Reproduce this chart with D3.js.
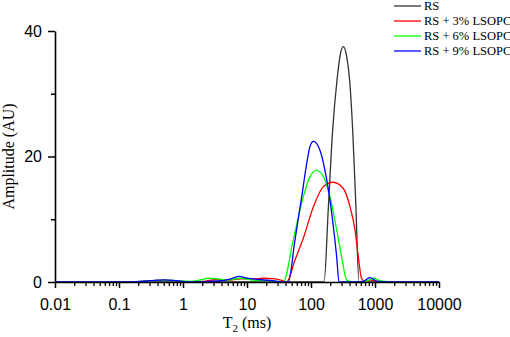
<!DOCTYPE html>
<html>
<head>
<meta charset="utf-8">
<script src="https://cdn.jsdelivr.net/npm/d3@7"></script>
<style>
  body { margin: 0; background: #fff; }
  svg { display: block; }
</style>
</head>
<body>
<div id="chart-container"></div>
<script>
// Dữ liệu: T2 (ms) và biên độ (AU)
const seriesNames = ["RS", "RS + 3% LSOPC", "RS + 6% LSOPC", "RS + 9% LSOPC"];
const seriesColors = ["#333333", "#ff0000", "#00ff00", "#0000ff"];

const rsT2 = [0.01, 100, 150, 160, 187, 218, 255, 284, 320, 360, 401, 448, 501, 562, 600, 10000];
const rsAmp = [0, 0, 0, 0, 12, 24.2, 32.2, 36.0, 37.5, 36.0, 32.2, 24.2, 12.5, 0, 0, 0];

const ls3T2 = [0.01, 0.15, 0.3, 0.5, 0.8, 1.2, 2, 3.5, 5, 8, 12, 18, 28, 36, 41.7, 56.2, 76, 109, 156, 223, 320, 407, 487, 549, 620, 700, 850, 1100, 1500, 10000];
const ls3Amp = [0, 0, 0.2, 0.3, 0.2, 0.05, 0.1, 0.4, 0.3, 0.5, 0.5, 0.6, 0.5, 0.2, 0, 3.5, 7, 12, 15.2, 15.9, 14.9, 12, 8.3, 4, 0.5, 0.1, 0.3, 0.1, 0, 0];

const ls6T2 = [0.01, 0.15, 0.3, 0.5, 0.8, 1.3, 2, 2.5, 3.5, 5, 8, 12, 20, 30, 36.9, 52.8, 75.9, 96.4, 123, 156, 198, 252, 301, 361, 450, 700, 800, 950, 1200, 2000, 10000];
const ls6Amp = [0, 0, 0.2, 0.3, 0.2, 0.1, 0.4, 0.6, 0.5, 0.3, 0.6, 0.3, 0.2, 0.1, 0, 6.7, 13.6, 16.8, 17.8, 16.8, 13.6, 8.3, 4, 0.3, 0, 0.1, 0.3, 0.6, 0.2, 0, 0];

const ls9T2 = [0.01, 0.15, 0.3, 0.5, 0.8, 1.3, 2.5, 4, 6, 7.6, 10, 15, 25, 40, 44.2, 56.2, 71.6, 85.8, 96.4, 109, 138, 176, 211, 252, 274, 450, 650, 830, 1100, 2000, 10000];
const ls9Amp = [0, 0, 0.2, 0.35, 0.2, 0, 0.1, 0.2, 0.6, 0.9, 0.6, 0.4, 0.2, 0, 0, 6.7, 13.6, 18.9, 21.6, 22.4, 21, 16.3, 10.9, 4, 0, 0, 0.1, 0.7, 0.1, 0, 0];

const xMajorTicks = [0.01, 0.1, 1, 10, 100, 1000, 10000];
const xTickLabels = ["0.01", "0.1", "1", "10", "100", "1000", "10000"];
const yMajorTicks = [0, 20, 40];
const yMinorTicks = [10, 30];

const allT2 = [rsT2, ls3T2, ls6T2, ls9T2];
const allAmp = [rsAmp, ls3Amp, ls6Amp, ls9Amp];

// Kích thước
const width = 510, height = 337;
const margin = { top: 31, right: 71, bottom: 55, left: 55 };

const svg = d3.select("#chart-container")
    .append("svg")
    .attr("width", width)
    .attr("height", height)
    .style("font-family", "'Times New Roman', 'Liberation Serif', serif");

const xScale = d3.scaleLog()
    .domain([0.01, 10000])
    .range([margin.left, width - margin.right]);

const yScale = d3.scaleLinear()
    .domain([0, 40])
    .range([height - margin.bottom - 0, margin.top]);

// Vẽ các đường
const line = d3.line()
    .x(d => xScale(d[0]))
    .y(d => yScale(d[1]))
    .curve(d3.curveMonotoneX);

allT2.forEach((t2, i) => {
    const pts = t2.map((t, j) => [t, allAmp[i][j]]);
    svg.append("path")
        .datum(pts)
        .attr("fill", "none")
        .attr("stroke", seriesColors[i])
        .attr("stroke-width", 1.3)
        .attr("d", line);
});

// Trục x: vạch chính và vạch phụ
const xMinor = [];
xMajorTicks.slice(0, -1).forEach(d => {
    for (let k = 2; k <= 9; k++) xMinor.push(d * k);
});

const xAxisY = yScale(0);
svg.append("g")
    .attr("transform", `translate(0, ${xAxisY})`)
    .call(d3.axisBottom(xScale).tickValues(xMinor).tickSize(4).tickFormat(""))
    .call(g => g.select(".domain").remove())
    .selectAll("line").attr("stroke-width", 1.3);

const gx = svg.append("g")
    .attr("transform", `translate(0, ${xAxisY})`)
    .call(d3.axisBottom(xScale)
        .tickValues(xMajorTicks)
        .tickSize(6)
        .tickSizeOuter(0)
        .tickPadding(11)
        .tickFormat((d, i) => xTickLabels[i]));
gx.select(".domain").attr("stroke-width", 1.6);
gx.selectAll("line").attr("stroke-width", 1.5);
gx.selectAll("text").style("font-size", "16px").attr("fill", "#000");

// Trục y
svg.append("g")
    .attr("transform", `translate(${margin.left}, 0)`)
    .call(d3.axisLeft(yScale).tickValues(yMinorTicks).tickSize(4).tickFormat(""))
    .call(g => g.select(".domain").remove())
    .selectAll("line").attr("stroke-width", 1.5);

const gy = svg.append("g")
    .attr("transform", `translate(${margin.left}, 0)`)
    .call(d3.axisLeft(yScale)
        .tickValues(yMajorTicks)
        .tickSize(7)
        .tickSizeOuter(0)
        .tickPadding(6)
        .tickFormat(d3.format("d")));
gy.select(".domain").attr("stroke-width", 1.6);
gy.selectAll("line").attr("stroke-width", 1.5);
gy.selectAll("text").style("font-size", "16px").attr("fill", "#000");

// Nhãn trục x: T2 (ms)
const xTitle = svg.append("text")
    .attr("x", (margin.left + width - margin.right) / 2)
    .attr("y", 328)
    .attr("text-anchor", "middle")
    .style("font-size", "16px");
xTitle.append("tspan").text("T");
xTitle.append("tspan").attr("dy", 4).style("font-size", "11px").text("2");
xTitle.append("tspan").attr("dy", -4).text(" (ms)");

// Nhãn trục y
svg.append("text")
    .attr("transform", `translate(14, ${(margin.top + yScale(0)) / 2}) rotate(-90)`)
    .attr("text-anchor", "middle")
    .style("font-size", "16px")
    .text("Amplitude (AU)");

// Chú giải
const legend = svg.append("g");
seriesNames.forEach((name, i) => {
    const y = 6 + i * 15;
    legend.append("line")
        .attr("x1", 394).attr("x2", 421)
        .attr("y1", y).attr("y2", y)
        .attr("stroke", seriesColors[i])
        .attr("stroke-width", 1.3);
    legend.append("text")
        .attr("x", 424)
        .attr("y", y)
        .attr("dy", "0.35em")
        .style("font-size", "12.5px")
        .text(name);
});
</script>
</body>
</html>
